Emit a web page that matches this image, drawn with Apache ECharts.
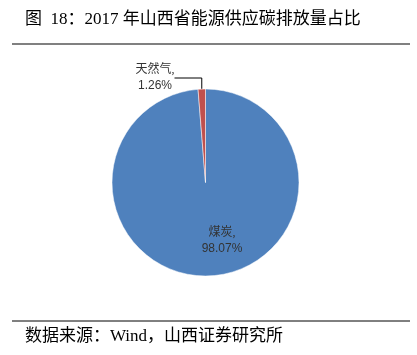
<!DOCTYPE html>
<html lang="zh">

<head>
  <meta charset="UTF-8">
  <title>2017年山西省能源供应碳排放量占比</title>
  <script src="https://cdn.jsdelivr.net/npm/echarts@6/dist/echarts.min.js"></script>
  <style>
    html,
    body {
      margin: 0;
      padding: 0;
      background-color: #fff;
    }

    #chart {
      width: 417px;
      height: 355px;
    }
  </style>
</head>

<body>
  <div id="chart"></div>
  <script>
    // 数据
    const energyNames = ['煤炭', '天然气'];
    const energyShares = [98.07, 1.26];
    const sliceColors = ['#4F81BD', '#C0504D'];

    const titleText = '图  18：2017 年山西省能源供应碳排放量占比';
    const sourceText = '数据来源：Wind，山西证券研究所';

    const serif = '"Liberation Serif", "Noto Sans CJK SC", serif';
    const sans = '"Liberation Sans", "Noto Sans CJK SC", sans-serif';

    const chart = echarts.init(document.getElementById('chart'));

    const pieData = energyNames.map((name, i) => ({
      name: name,
      value: energyShares[i],
      itemStyle: { color: sliceColors[i] }
    }));

    // 两个标签位置不一样，单独处理
    pieData[0].label = { position: 'inside' };
    pieData[0].labelLine = { show: false };
    pieData[1].label = { position: 'outside' };

    const option = {
      animation: false,
      title: [{
        text: titleText,
        left: 20,
        top: 6,
        textStyle: { fontFamily: serif, fontSize: 17, fontWeight: 'normal', color: '#000' }
      }, {
        text: sourceText,
        left: 20,
        top: 323,
        textStyle: { fontFamily: serif, fontSize: 17, fontWeight: 'normal', color: '#000' }
      }],
      graphic: [{
        type: 'line',
        shape: { x1: 12, y1: 44, x2: 410, y2: 44 },
        style: { stroke: '#808080', lineWidth: 2 }
      }, {
        type: 'line',
        shape: { x1: 12, y1: 321, x2: 410, y2: 321 },
        style: { stroke: '#000', lineWidth: 1 }
      }],
      series: [{
        type: 'pie',
        center: [205.5, 182.5],
        radius: [0, 93.5],
        startAngle: 90,
        clockwise: true,
        data: pieData,
        itemStyle: { borderColor: '#fff', borderWidth: 0.5 },
        label: {
          formatter: '{n|{b},}\n{v|{c}%}',
          rich: {
            n: { fontFamily: serif, fontSize: 12, color: '#333', lineHeight: 16 },
            v: { fontFamily: sans, fontSize: 12, color: '#333', lineHeight: 16 }
          }
        },
        labelLine: {
          show: true,
          lineStyle: { color: '#000', width: 1 }
        },
        labelLayout: function (params) {
          if (params.dataIndex === 0) {
            return { x: 222, y: 241, align: 'center', verticalAlign: 'middle' };
          }
          return { x: 155, y: 78, align: 'center', verticalAlign: 'middle' };
        }
      }]
    };

    chart.setOption(option);
  </script>
</body>

</html>
